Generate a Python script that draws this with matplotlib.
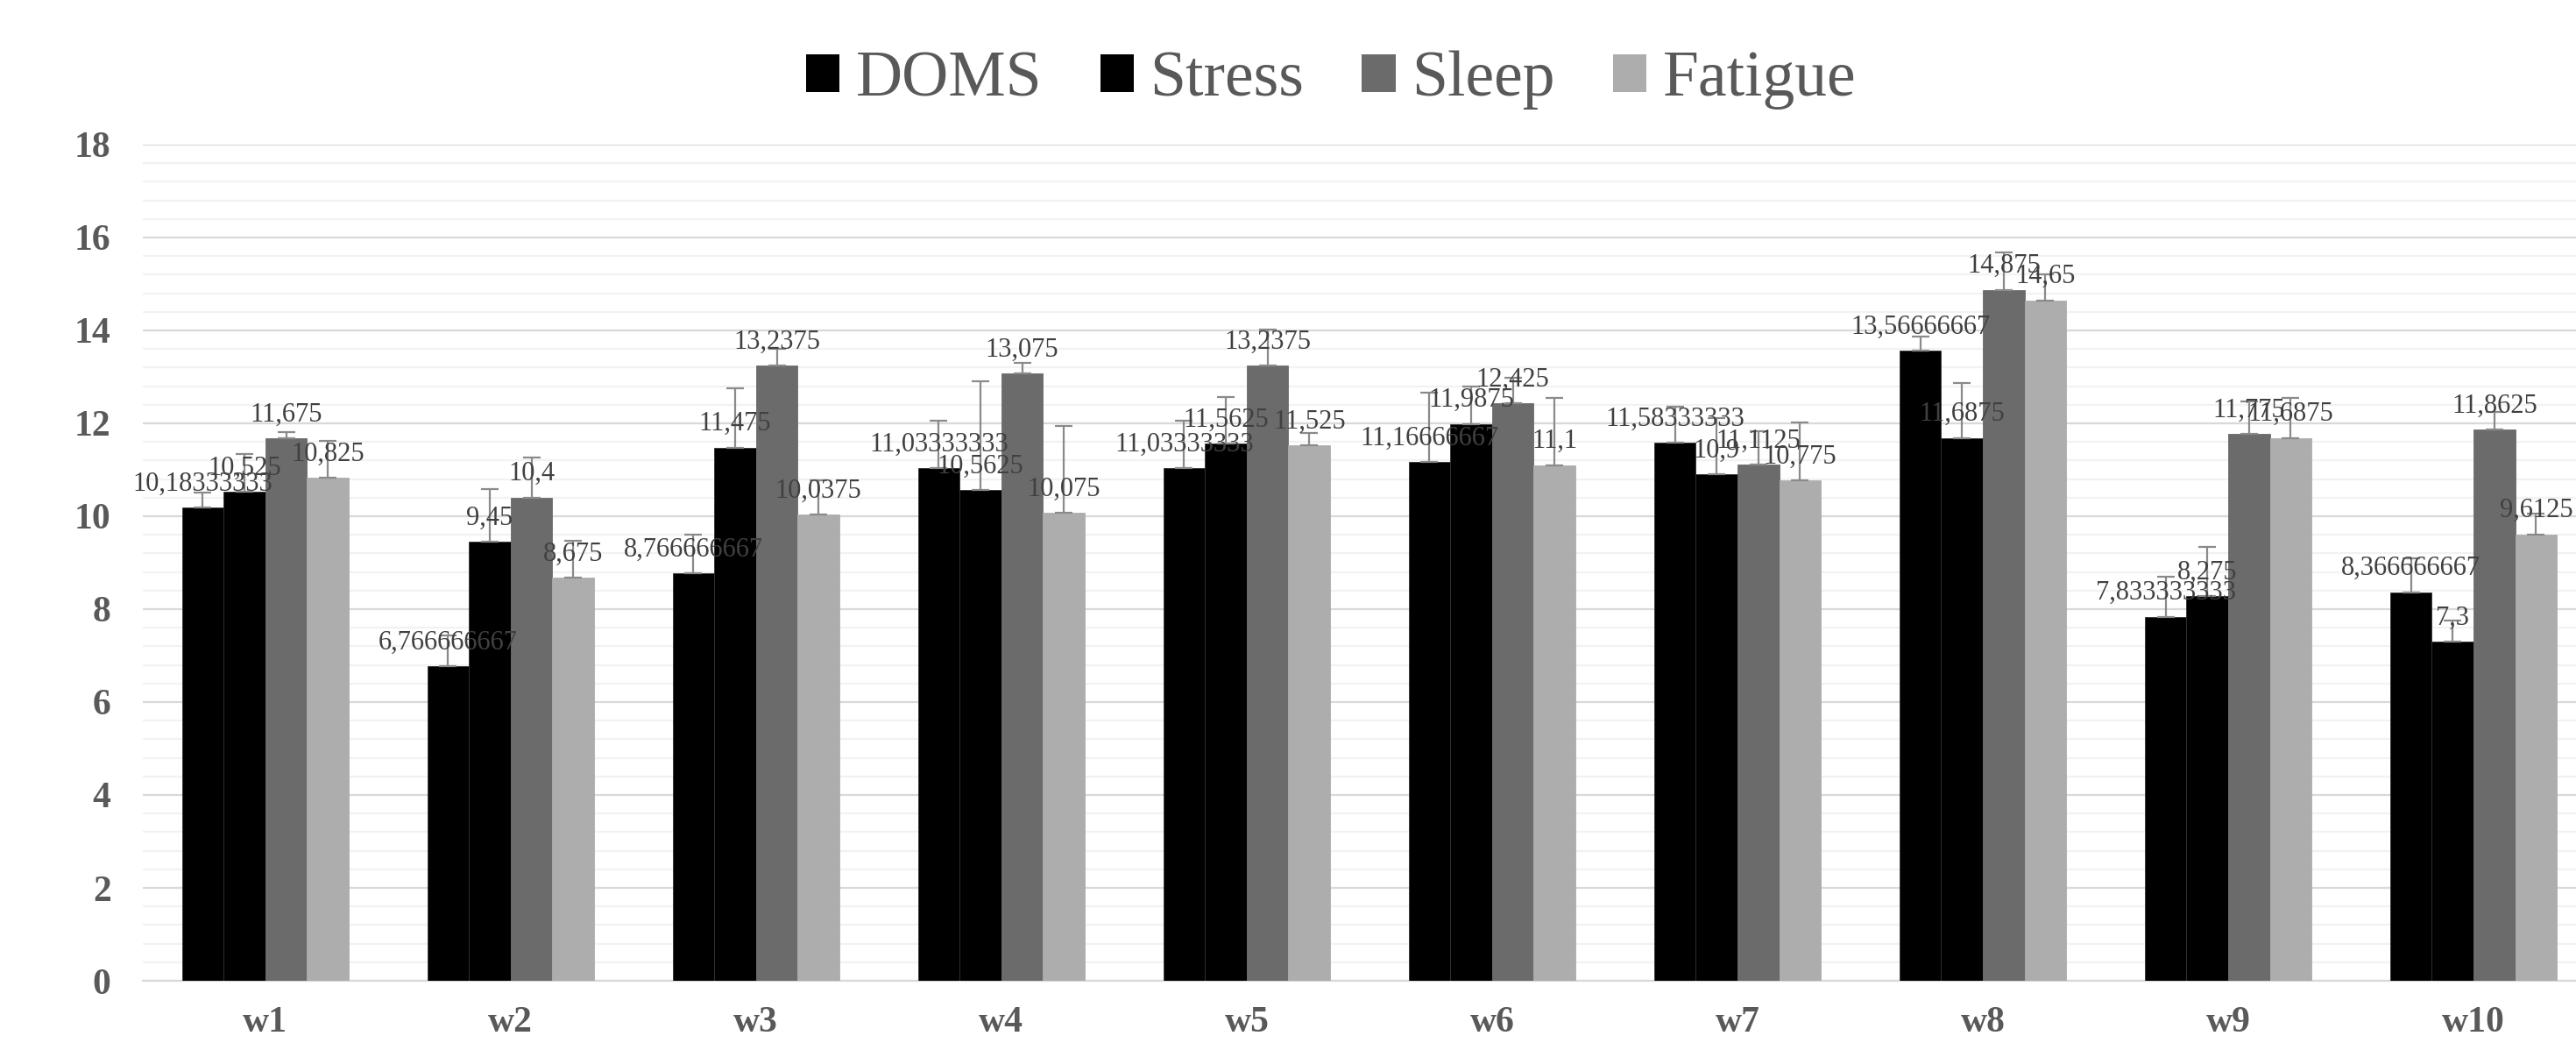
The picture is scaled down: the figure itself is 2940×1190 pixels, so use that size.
import numpy as np
import matplotlib.pyplot as plt
from matplotlib.patches import Patch

plt.rcParams['font.family'] = ['Liberation Serif', 'DejaVu Serif']

weeks = ['w1', 'w2', 'w3', 'w4', 'w5', 'w6', 'w7', 'w8', 'w9', 'w10']
series = ['DOMS', 'Stress', 'Sleep', 'Fatigue']

doms = [10.18333333, 6.766666667, 8.766666667, 11.03333333, 11.03333333,
        11.16666667, 11.58333333, 13.56666667, 7.833333333, 8.366666667]
stress = [10.525, 9.45, 11.475, 10.5625, 11.5625, 11.9875, 10.9, 11.6875, 8.275, 7.3]
sleep = [11.675, 10.4, 13.2375, 13.075, 13.2375, 12.425, 11.1125, 14.875, 11.775, 11.8625]
fatigue = [10.825, 8.675, 10.0375, 10.075, 11.525, 11.1, 10.775, 14.65, 11.6875, 9.6125]

# upper error (only + side drawn)
doms_err = [0.33, 0.67, 0.83, 1.03, 1.02, 1.5, 0.78, 0.3, 0.87, 0.73]
stress_err = [0.81, 1.13, 1.28, 2.35, 1.01, 0.8, 1.22, 1.18, 1.07, 0.45]
sleep_err = [0.14, 0.87, 0.37, 0.23, 0.78, 0.55, 0.72, 0.81, 0.7, 0.38]
fatigue_err = [0.8, 0.8, 0.74, 1.87, 0.27, 1.45, 1.25, 0.56, 0.86, 0.45]

values = [doms, stress, sleep, fatigue]
errors = [doms_err, stress_err, sleep_err, fatigue_err]
colors = ['#000000', '#000000', '#6b6b6b', '#adadad']
edges = ['#333333', '#333333', '#6b6b6b', '#adadad']

fig = plt.figure(figsize=(29.4, 11.9), dpi=100)
ax = fig.add_axes([0.05534, 0.05966, 0.9525, 0.8017])

x = np.arange(len(weeks))
w = 0.17
for i in range(4):
    xs = x + (i - 1.5) * w
    ax.bar(xs, values[i], width=w, color=colors[i], edgecolor=edges[i],
           linewidth=0.6, zorder=3)
    ax.errorbar(xs, values[i], yerr=[np.zeros(len(x)), errors[i]], fmt='none',
                ecolor='#8a8a8a', elinewidth=1.6, capsize=7, capthick=1.6, zorder=4)
    for xi, v in zip(xs, values[i]):
        lab = f"{v:.10g}".replace('.', ',')
        ax.annotate(lab, (xi, v), xytext=(0, 9), textcoords='offset points',
                    ha='center', va='bottom', fontsize=22, color='#404040', zorder=5)

ax.set_xlim(-0.5, len(weeks) - 0.5)
ax.set_ylim(0, 18)
ax.set_yticks(np.arange(0, 19, 2))
ax.set_yticks(np.arange(0, 18.01, 0.4), minor=True)
ax.set_xticks(x)
ax.set_xticklabels(weeks)
ax.grid(axis='y', which='major', color='#d9d9d9', linewidth=1.6, zorder=0)
ax.grid(axis='y', which='minor', color='#f2f2f2', linewidth=1.6, zorder=0)
ax.set_axisbelow(True)
for s in ['top', 'right', 'left']:
    ax.spines[s].set_visible(False)
ax.spines['bottom'].set_color('#d9d9d9')
ax.spines['bottom'].set_linewidth(1.6)
ax.tick_params(axis='both', which='both', length=0)
ax.tick_params(axis='y', pad=26, labelsize=30, labelcolor='#595959')
ax.tick_params(axis='x', pad=21, labelsize=30, labelcolor='#595959')
for t in ax.get_xticklabels() + ax.get_yticklabels():
    t.set_fontweight('bold')

handles = [Patch(facecolor=c, edgecolor='none') for c in colors]
fig.legend(handles, series, loc='center', bbox_to_anchor=(0.5167, 0.923),
           ncol=4, frameon=False, fontsize=53, labelcolor='#595959',
           handlelength=0.52, handleheight=0.52, handletextpad=0.25,
           columnspacing=0.9)

fig.savefig('out.png', dpi=100)
